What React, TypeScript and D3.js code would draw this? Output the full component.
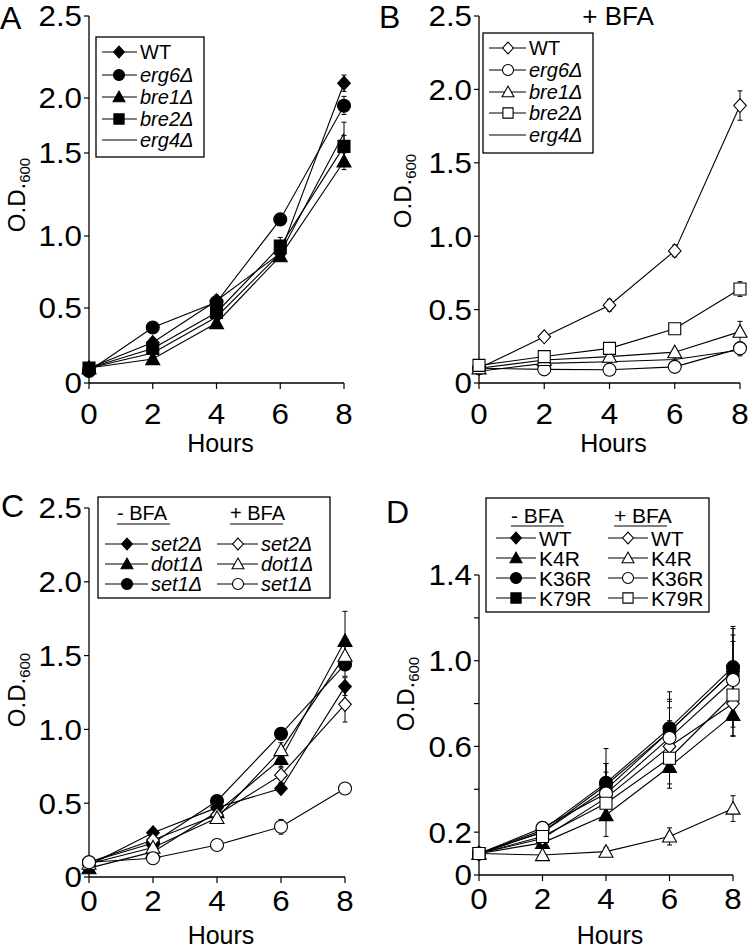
import React from 'react';
import * as d3 from 'd3';

// ---------- DATA ----------
const hours = [0, 2, 4, 6, 8];

// Panel A (no BFA)
const aNames = ['WT', 'erg6Δ', 'bre1Δ', 'bre2Δ', 'erg4Δ'];
const aWT = [0.1, 0.27, 0.55, 0.88, 2.09];
const aErg6 = [0.08, 0.37, 0.54, 1.1, 1.93];
const aBre1 = [0.1, 0.16, 0.4, 0.86, 1.45];
const aBre2 = [0.1, 0.23, 0.47, 0.93, 1.56];
const aErg4 = [0.1, 0.2, 0.44, 0.88, 1.68];
const aWTErr = [0, 0.02, 0.04, 0.03, 0.05];
const aErg6Err = [0, 0.02, 0.03, 0.03, 0.08];
const aBre1Err = [0, 0.02, 0.02, 0.03, 0.05];
const aBre2Err = [0, 0.02, 0.03, 0.06, 0.1];
const aErg4Err = [0, 0.02, 0.03, 0.05, 0.1];

// Panel B (+ BFA)
const bWT = [0.1, 0.315, 0.53, 0.9, 1.89];
const bErg6 = [0.1, 0.093, 0.09, 0.11, 0.236];
const bBre1 = [0.1, 0.157, 0.18, 0.21, 0.35];
const bBre2 = [0.12, 0.18, 0.236, 0.37, 0.64];
const bErg4 = [0.08, 0.134, 0.145, 0.16, 0.225];
const bWTErr = [0, 0.02, 0.04, 0.04, 0.1];
const bErg6Err = [0, 0.01, 0.01, 0.02, 0.04];
const bBre1Err = [0, 0.01, 0.02, 0.02, 0.07];
const bBre2Err = [0, 0.02, 0.02, 0.02, 0.05];
const bErg4Err = [0, 0.01, 0.01, 0.01, 0.04];

// Panel C
const cNames = ['set2Δ', 'dot1Δ', 'set1Δ'];
const cSet2Minus = [0.08, 0.3, 0.47, 0.6, 1.29];
const cDot1Minus = [0.06, 0.17, 0.44, 0.8, 1.6];
const cSet1Minus = [0.1, 0.23, 0.515, 0.97, 1.44];
const cSet2Plus = [0.1, 0.25, 0.42, 0.69, 1.17];
const cDot1Plus = [0.09, 0.2, 0.4, 0.86, 1.5];
const cSet1Plus = [0.1, 0.127, 0.217, 0.34, 0.6];
const cSet2MinusErr = [0, 0.02, 0.03, 0.03, 0.06];
const cDot1MinusErr = [0, 0.02, 0.03, 0.05, 0.2];
const cSet1MinusErr = [0, 0.02, 0.03, 0.03, 0.08];
const cSet2PlusErr = [0, 0.02, 0.03, 0.05, 0.12];
const cDot1PlusErr = [0, 0.02, 0.03, 0.05, 0.1];
const cSet1PlusErr = [0, 0.01, 0.03, 0.05, 0.02];

// Panel D
const dNames = ['WT', 'K4R', 'K36R', 'K79R'];
const dWTMinus = [0.1, 0.2, 0.42, 0.67, 0.95];
const dK4RMinus = [0.1, 0.15, 0.28, 0.505, 0.747];
const dK36RMinus = [0.1, 0.21, 0.43, 0.685, 0.97];
const dK79RMinus = [0.1, 0.2, 0.4, 0.67, 0.95];
const dWTPlus = [0.1, 0.17, 0.36, 0.6, 0.8];
const dK4RPlus = [0.1, 0.093, 0.109, 0.18, 0.31];
const dK36RPlus = [0.1, 0.22, 0.38, 0.64, 0.91];
const dK79RPlus = [0.1, 0.18, 0.335, 0.545, 0.84];
const dWTMinusErr = [0, 0.02, 0.1, 0.15, 0.2];
const dK4RMinusErr = [0, 0.02, 0.1, 0.1, 0.1];
const dK36RMinusErr = [0, 0.02, 0.16, 0.17, 0.19];
const dK79RMinusErr = [0, 0.02, 0.12, 0.14, 0.17];
const dWTPlusErr = [0, 0.02, 0.08, 0.12, 0.15];
const dK4RPlusErr = [0, 0.01, 0.02, 0.04, 0.06];
const dK36RPlusErr = [0, 0.02, 0.1, 0.14, 0.18];
const dK79RPlusErr = [0, 0.02, 0.08, 0.12, 0.15];

// Tick values / labels
const yTicksABC = [0, 0.5, 1, 1.5, 2, 2.5];
const yLabelsABC = ['0', '0.5', '1.0', '1.5', '2.0', '2.5'];
const yTicksD = [0, 0.2, 0.4, 0.6, 0.8, 1.0, 1.2, 1.4];
const yLabelsD = ['0', '0.2', '', '0.6', '', '1.0', '', '1.4'];

// ---------- RENDERING ----------
type Shape = 'diamond' | 'circle' | 'triangle' | 'square' | 'none';
interface Series {
  name: string;
  values: number[];
  errors: number[];
  shape: Shape;
  filled: boolean;
  italic: boolean;
}

const FONT = '"Liberation Sans", Arial, Helvetica, sans-serif';
const TICK_FS = 29;
const TICK_SX = 1.08;

function symbolPath(shape: Shape, s: number): string {
  switch (shape) {
    case 'diamond':
      return `M0,${-s}L${s * 0.9},0L0,${s}L${-s * 0.9},0Z`;
    case 'circle':
      return `M${s},0A${s},${s} 0 1,1 ${-s},0A${s},${s} 0 1,1 ${s},0Z`;
    case 'triangle':
      return `M0,${-s}L${s},${s * 0.8}L${-s},${s * 0.8}Z`;
    case 'square':
      return `M${-s},${-s}H${s}V${s}H${-s}Z`;
    default:
      return '';
  }
}
const baseSize: Record<Shape, number> = { diamond: 7, circle: 6.5, triangle: 7, square: 6, none: 0 };

function Marker({ s, x, y, scale = 1 }: { s: Series; x: number; y: number; scale?: number }) {
  if (s.shape === 'none') return null;
  return (
    <path
      d={symbolPath(s.shape, baseSize[s.shape] * scale)}
      transform={`translate(${x},${y})`}
      fill={s.filled ? '#000' : '#fff'}
      stroke="#000"
      strokeWidth={1.1}
    />
  );
}

function TickText({ x, y, anchor, children }: { x: number; y: number; anchor: 'end' | 'middle'; children: React.ReactNode }) {
  return (
    <text transform={`translate(${x},${y}) scale(${TICK_SX},1)`} dy="0.36em" textAnchor={anchor} fontSize={TICK_FS}>
      {children}
    </text>
  );
}

interface LegendItem { s: Series; y: number; lx1: number; lx2: number; sx: number; tx: number }
interface LegendCfg {
  box: [number, number, number, number];
  headers: { text: string; x: number; y: number }[];
  items: LegendItem[];
  fontSize: number;
}
interface PanelCfg {
  letter: string; letterX: number; letterY: number;
  x0: number; x1: number;
  yDomain: number[]; yRange: number[];
  yTicks: number[]; yLabels: string[];
  series: Series[];
  xLabelDy: number; hoursDy: number;
  yLabelX: number; yLabelY: number;
  legend: LegendCfg;
  title?: { text: string; x: number; y: number };
}

function Panel({ cfg }: { cfg: PanelCfg }) {
  const x = d3.scaleLinear().domain([0, 8]).range([cfg.x0, cfg.x1]);
  const y = d3.scaleLinear().domain(cfg.yDomain).range(cfg.yRange);
  const yTop = cfg.yDomain[cfg.yDomain.length - 1];
  const y0 = y(0);
  const line = d3.line<number>().x((_, i) => x(hours[i])).y((v) => y(v));
  const lg = cfg.legend;
  return (
    <g fontFamily={FONT}>
      <text x={cfg.letterX} y={cfg.letterY} fontSize={32}>{cfg.letter}</text>
      {cfg.title && (
        <text x={cfg.title.x} y={cfg.title.y} fontSize={26} textAnchor="middle">{cfg.title.text}</text>
      )}
      {/* axes */}
      <line x1={cfg.x0} x2={cfg.x0} y1={y0} y2={y(yTop)} stroke="#000" strokeWidth={1.3} />
      <line x1={cfg.x0} x2={cfg.x1} y1={y0} y2={y0} stroke="#000" strokeWidth={1.3} />
      {cfg.yTicks.map((t, i) => (
        <g key={'yt' + i}>
          <line x1={cfg.x0 - 5} x2={cfg.x0} y1={y(t)} y2={y(t)} stroke="#000" strokeWidth={1.2} />
          {cfg.yLabels[i] && (
            <TickText x={cfg.x0 - 7} y={y(t)} anchor="end">{cfg.yLabels[i]}</TickText>
          )}
        </g>
      ))}
      {hours.map((h) => (
        <g key={'xt' + h}>
          <line x1={x(h)} x2={x(h)} y1={y0} y2={y0 + 6} stroke="#000" strokeWidth={1.2} />
          <TickText x={x(h)} y={y0 + cfg.xLabelDy} anchor="middle">{h}</TickText>
        </g>
      ))}
      <text x={(cfg.x0 + cfg.x1) / 2 + 4} y={y0 + cfg.hoursDy} dy="0.36em" textAnchor="middle" fontSize={25}>Hours</text>
      <text transform={`translate(${cfg.yLabelX},${cfg.yLabelY}) rotate(-90)`} textAnchor="middle" fontSize={24}>
        O.D.<tspan fontSize={15} dy={5}>600</tspan>
      </text>
      {/* lines & error bars */}
      {cfg.series.map((s, si) => (
        <g key={'s' + si}>
          <path d={line(s.values) || ''} fill="none" stroke="#000" strokeWidth={1.1} />
          {s.values.map((v, i) =>
            s.errors[i] > 0 ? (
              <g key={'e' + i}>
                <line x1={x(hours[i])} x2={x(hours[i])} y1={y(v - s.errors[i])} y2={y(v + s.errors[i])} stroke="#000" strokeWidth={1} />
                <line x1={x(hours[i]) - 2.5} x2={x(hours[i]) + 2.5} y1={y(v + s.errors[i])} y2={y(v + s.errors[i])} stroke="#000" strokeWidth={1} />
                <line x1={x(hours[i]) - 2.5} x2={x(hours[i]) + 2.5} y1={y(v - s.errors[i])} y2={y(v - s.errors[i])} stroke="#000" strokeWidth={1} />
              </g>
            ) : null
          )}
        </g>
      ))}
      {cfg.series.map((s, si) => (
        <g key={'m' + si}>
          {s.values.map((v, i) => (
            <Marker key={i} s={s} x={x(hours[i])} y={y(v)} />
          ))}
        </g>
      ))}
      {/* legend */}
      <rect x={lg.box[0]} y={lg.box[1]} width={lg.box[2] - lg.box[0]} height={lg.box[3] - lg.box[1]} fill="#fff" stroke="#000" strokeWidth={1.3} />
      {lg.headers.map((h, i) => (
        <g key={'h' + i}>
          <text x={h.x} y={h.y} dy="0.36em" fontSize={lg.fontSize}>{h.text}</text>
          <line x1={h.x} x2={h.x + 53} y1={h.y + 11} y2={h.y + 11} stroke="#000" strokeWidth={1.2} />
        </g>
      ))}
      {lg.items.map((it, i) => (
        <g key={'li' + i}>
          <line x1={it.lx1} x2={it.lx2} y1={it.y} y2={it.y} stroke="#000" strokeWidth={1.1} />
          <Marker s={it.s} x={it.sx} y={it.y} scale={0.85} />
          <text x={it.tx} y={it.y} dy="0.36em" fontSize={lg.fontSize} fontStyle={it.s.italic ? 'italic' : 'normal'}>
            {it.s.name}
          </text>
        </g>
      ))}
    </g>
  );
}

function mk(name: string, values: number[], errors: number[], shape: Shape, filled: boolean, italic: boolean): Series {
  return { name, values, errors, shape, filled, italic };
}

export default function App() {
  const aSeries = [
    mk(aNames[0], aWT, aWTErr, 'diamond', true, false),
    mk(aNames[1], aErg6, aErg6Err, 'circle', true, true),
    mk(aNames[2], aBre1, aBre1Err, 'triangle', true, true),
    mk(aNames[3], aBre2, aBre2Err, 'square', true, true),
    mk(aNames[4], aErg4, aErg4Err, 'none', true, true),
  ];
  const bSeries = [
    mk(aNames[0], bWT, bWTErr, 'diamond', false, false),
    mk(aNames[1], bErg6, bErg6Err, 'circle', false, true),
    mk(aNames[2], bBre1, bBre1Err, 'triangle', false, true),
    mk(aNames[3], bBre2, bBre2Err, 'square', false, true),
    mk(aNames[4], bErg4, bErg4Err, 'none', false, true),
  ];
  const cMinus = [
    mk(cNames[0], cSet2Minus, cSet2MinusErr, 'diamond', true, true),
    mk(cNames[1], cDot1Minus, cDot1MinusErr, 'triangle', true, true),
    mk(cNames[2], cSet1Minus, cSet1MinusErr, 'circle', true, true),
  ];
  const cPlus = [
    mk(cNames[0], cSet2Plus, cSet2PlusErr, 'diamond', false, true),
    mk(cNames[1], cDot1Plus, cDot1PlusErr, 'triangle', false, true),
    mk(cNames[2], cSet1Plus, cSet1PlusErr, 'circle', false, true),
  ];
  const dMinus = [
    mk(dNames[0], dWTMinus, dWTMinusErr, 'diamond', true, false),
    mk(dNames[1], dK4RMinus, dK4RMinusErr, 'triangle', true, false),
    mk(dNames[2], dK36RMinus, dK36RMinusErr, 'circle', true, false),
    mk(dNames[3], dK79RMinus, dK79RMinusErr, 'square', true, false),
  ];
  const dPlus = [
    mk(dNames[0], dWTPlus, dWTPlusErr, 'diamond', false, false),
    mk(dNames[1], dK4RPlus, dK4RPlusErr, 'triangle', false, false),
    mk(dNames[2], dK36RPlus, dK36RPlusErr, 'circle', false, false),
    mk(dNames[3], dK79RPlus, dK79RPlusErr, 'square', false, false),
  ];

  const aRows = [52, 75, 97, 119, 140];
  const bRows = [48, 70, 92, 113, 135];
  const cRows = [544, 564, 584];
  const dRows = [538, 558, 578, 598];

  const panels: PanelCfg[] = [
    {
      letter: 'A', letterX: 0, letterY: 29,
      x0: 89, x1: 344,
      yDomain: [0, 0.5, 1, 1.5, 2, 2.5], yRange: [383, 308, 236, 153, 98, 16],
      yTicks: yTicksABC, yLabels: yLabelsABC,
      series: aSeries, xLabelDy: 31, hoursDy: 60,
      yLabelX: 25, yLabelY: 195,
      legend: {
        box: [96, 37, 204, 157], headers: [], fontSize: 20,
        items: aSeries.map((s, i) => ({ s, y: aRows[i], lx1: 102, lx2: 137, sx: 119, tx: 140 })),
      },
    },
    {
      letter: 'B', letterX: 379, letterY: 28,
      x0: 479, x1: 740,
      yDomain: [0, 2.5], yRange: [383, 16],
      yTicks: yTicksABC, yLabels: yLabelsABC,
      series: bSeries, xLabelDy: 31, hoursDy: 60,
      yLabelX: 411, yLabelY: 191,
      title: { text: '+ BFA', x: 618, y: 25 },
      legend: {
        box: [483, 33, 593, 153], headers: [], fontSize: 20,
        items: bSeries.map((s, i) => ({ s, y: bRows[i], lx1: 489, lx2: 526, sx: 508, tx: 529 })),
      },
    },
    {
      letter: 'C', letterX: 1, letterY: 517,
      x0: 89, x1: 345,
      yDomain: [0, 2.5], yRange: [877, 508],
      yTicks: yTicksABC, yLabels: yLabelsABC,
      series: [...cMinus, ...cPlus], xLabelDy: 24, hoursDy: 58,
      yLabelX: 25, yLabelY: 690,
      legend: {
        box: [98, 497, 330, 598], fontSize: 20,
        headers: [{ text: '- BFA', x: 117, y: 513 }, { text: '+ BFA', x: 230, y: 513 }],
        items: [
          ...cMinus.map((s, i) => ({ s, y: cRows[i], lx1: 105, lx2: 148, sx: 127, tx: 151 })),
          ...cPlus.map((s, i) => ({ s, y: cRows[i], lx1: 217, lx2: 258, sx: 238, tx: 261 })),
        ],
      },
    },
    {
      letter: 'D', letterX: 386, letterY: 523,
      x0: 479, x1: 733,
      yDomain: [0, 1.4], yRange: [875, 575],
      yTicks: yTicksD, yLabels: yLabelsD,
      series: [...dMinus, ...dPlus], xLabelDy: 24, hoursDy: 60,
      yLabelX: 414, yLabelY: 694,
      legend: {
        box: [486, 498, 709, 612], fontSize: 21,
        headers: [{ text: '- BFA', x: 511, y: 515 }, { text: '+ BFA', x: 614, y: 515 }],
        items: [
          ...dMinus.map((s, i) => ({ s, y: dRows[i], lx1: 496, lx2: 536, sx: 516, tx: 539 })),
          ...dPlus.map((s, i) => ({ s, y: dRows[i], lx1: 608, lx2: 648, sx: 628, tx: 651 })),
        ],
      },
    },
  ];

  return (
    <svg width={752} height={951} style={{ position: 'absolute', left: 0, top: 0, background: '#fff' }}>
      <rect width={752} height={951} fill="#fff" />
      {panels.map((p) => (
        <Panel key={p.letter} cfg={p} />
      ))}
    </svg>
  );
}
